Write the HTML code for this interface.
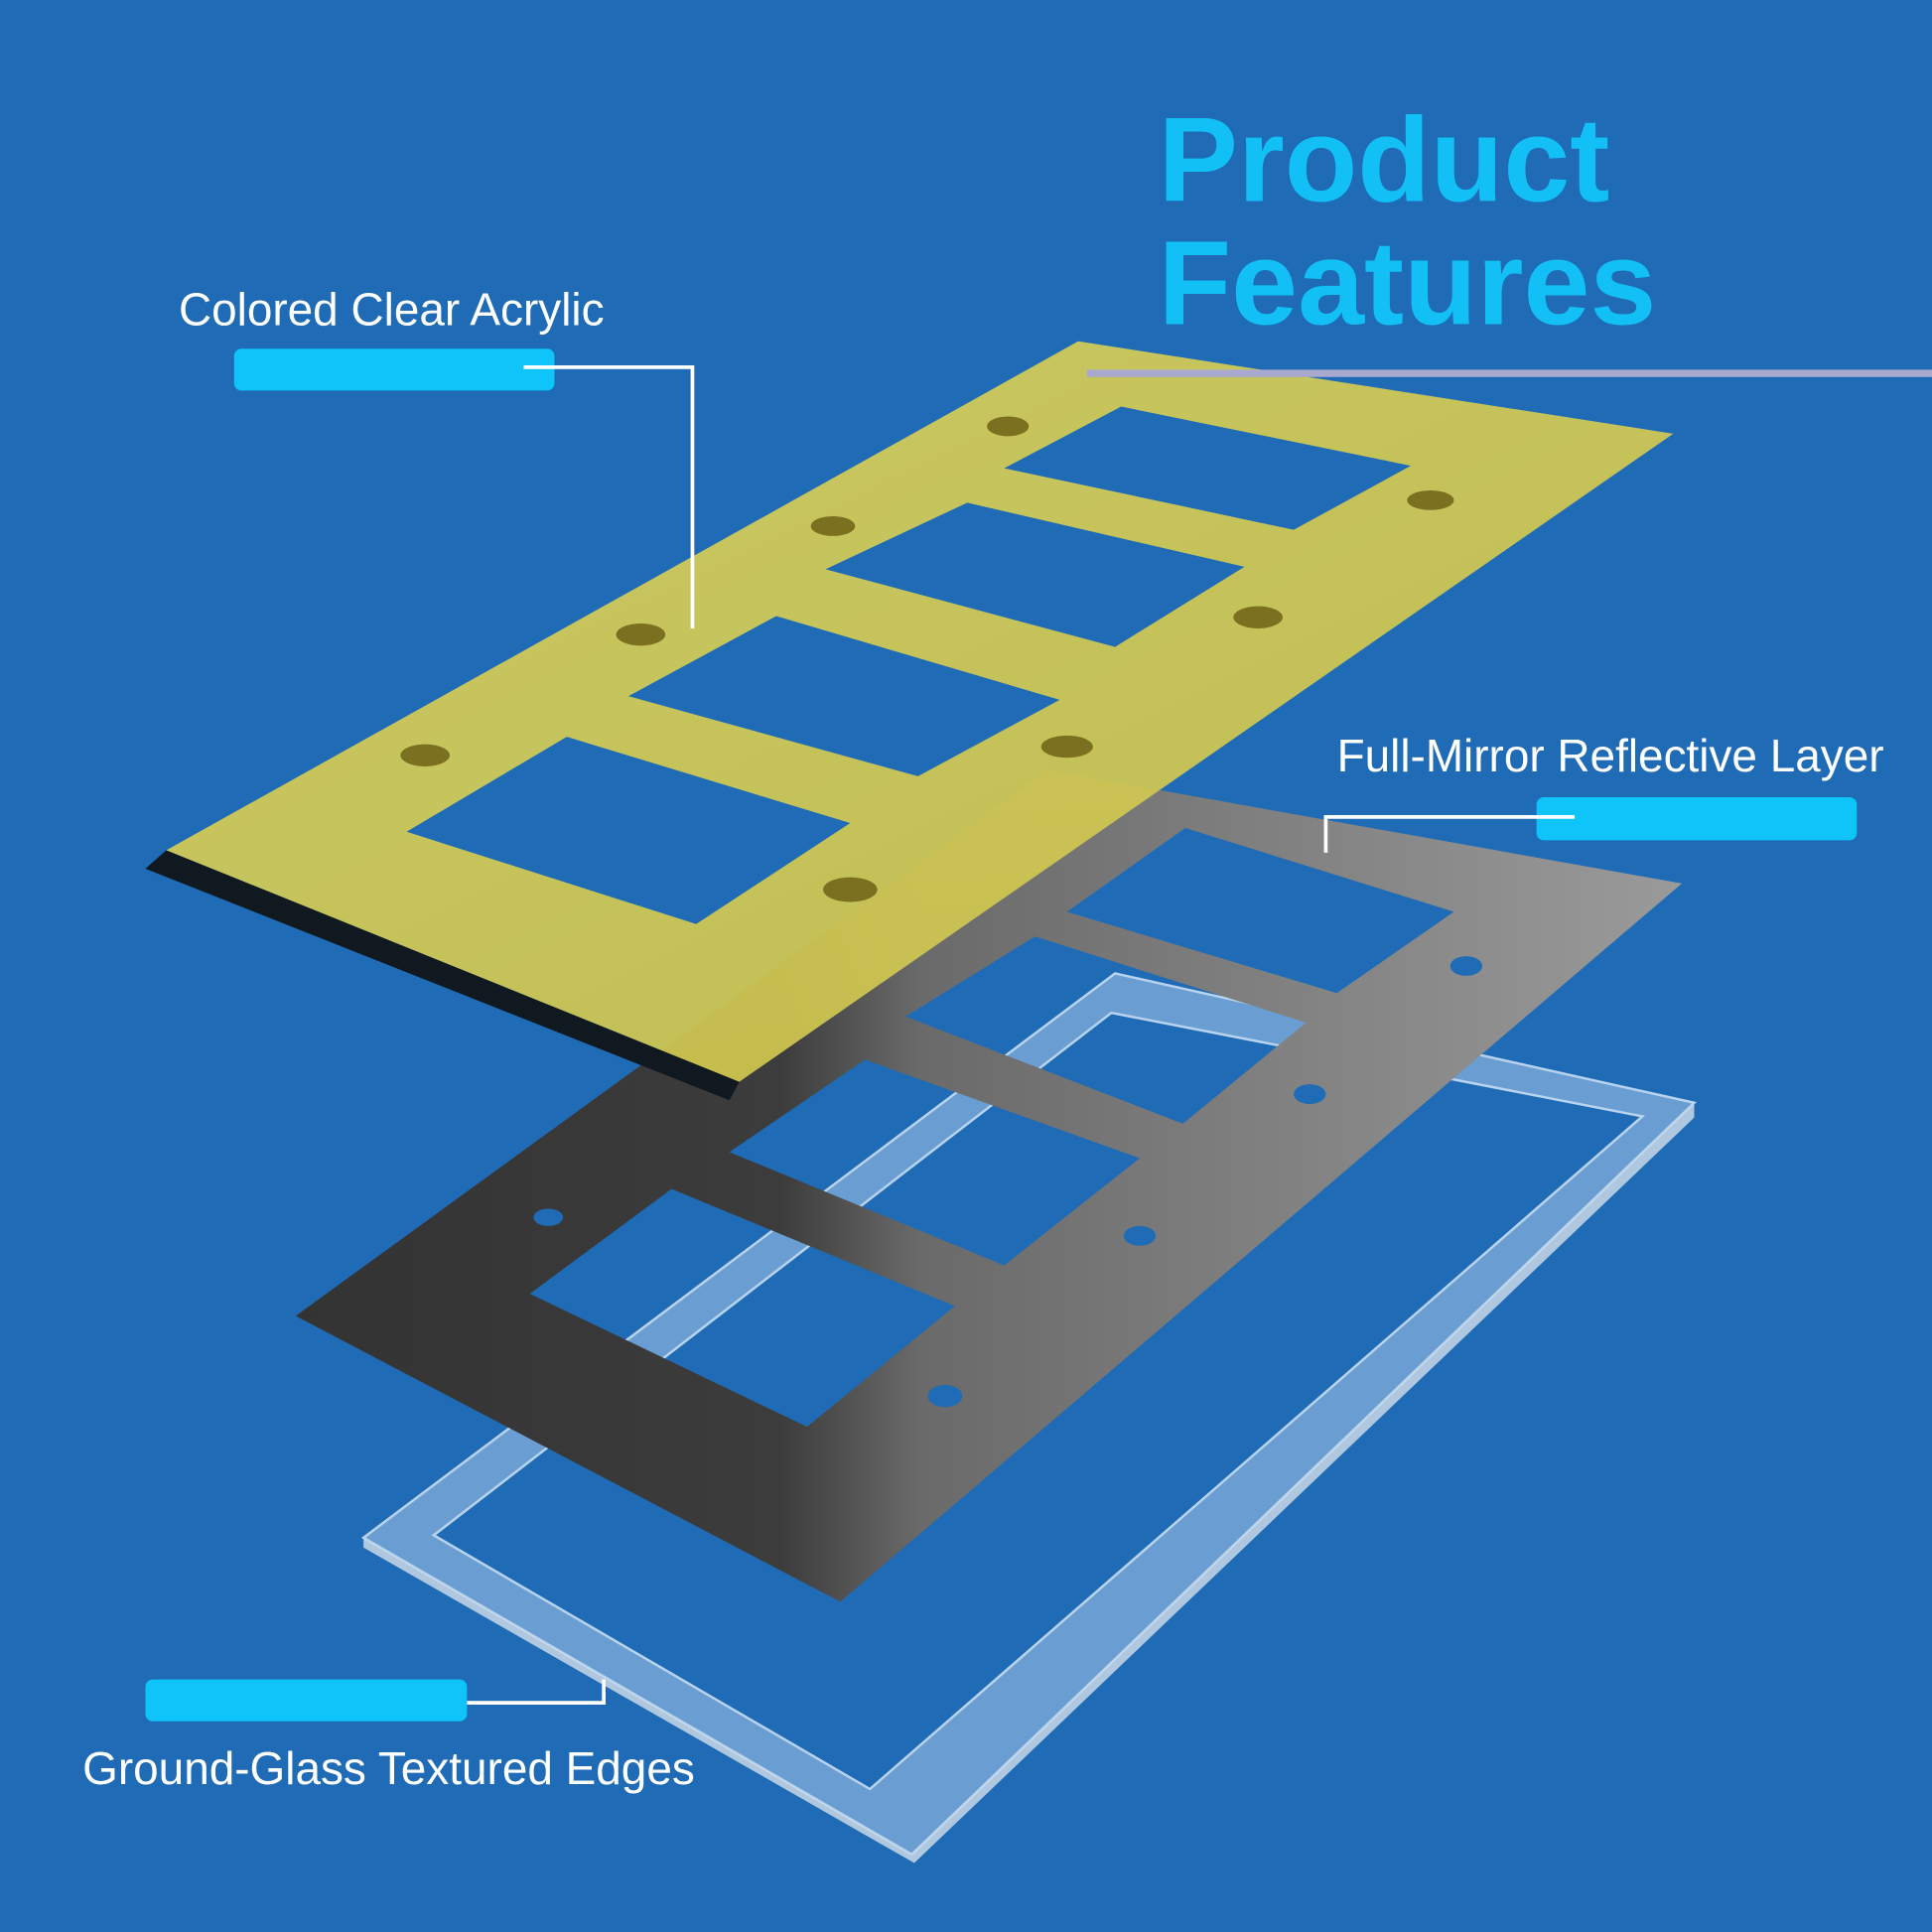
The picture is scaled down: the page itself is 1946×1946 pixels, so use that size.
<!DOCTYPE html>
<html><head><meta charset="utf-8"><style>
html,body{margin:0;padding:0;background:#1F6BB5;}
svg{display:block;}
</style></head><body>
<svg width="1946" height="1946" viewBox="0 0 1568 1568" xmlns="http://www.w3.org/2000/svg">
<defs>
<linearGradient id="gr" x1="0" y1="0" x2="1" y2="0">
<stop offset="0" stop-color="#333"/><stop offset="0.35" stop-color="#3c3c3c"/><stop offset="0.45" stop-color="#6a6a6a"/><stop offset="1" stop-color="#9a9a9a"/></linearGradient>
<linearGradient id="yl" x1="0" y1="0" x2="1" y2="1">
<stop offset="0" stop-color="#D8D05C"/><stop offset="1" stop-color="#CBC24A"/></linearGradient>
</defs>
<rect width="1568" height="1568" fill="#1F6BB5"/>
<path fill-rule="evenodd" fill="#9CC0E6" fill-opacity="0.6" stroke="#B8D3EE" stroke-width="2"
d="M295,1248 L905,790 L1375,895 L740,1505 Z M352,1246 L902,822 L1333,906 L706,1452 Z"/>
<path d="M295,1248 L740,1505 L1375,895 L1375,907 L742,1512 L295,1256 Z" fill="#C9D8E8" fill-opacity="0.85"/>
<path fill-rule="evenodd" fill="url(#gr)"
d="M240,1068 L850,625 L1365,717 L682,1300 Z
M430,1050 L545,965 L775,1060 L655,1158 Z
M592,935 L702,860 L925,940 L815,1027 Z
M735,825 L840,760 L1060,830 L960,912 Z
M866,740 L962,672 L1180,740 L1085,806 Z"/>
<g fill="#1F6BB5"><ellipse cx="445" cy="988" rx="12" ry="7"/><ellipse cx="767" cy="1133" rx="14" ry="9"/><ellipse cx="925" cy="1003" rx="13" ry="8"/><ellipse cx="1063" cy="888" rx="13" ry="8"/><ellipse cx="1190" cy="784" rx="13" ry="8"/></g>
<path d="M118,705 L135,690 L600,878 L592,893 Z" fill="#101820"/>
<path fill-rule="evenodd" fill="url(#yl)" fill-opacity="0.93"
d="M135,690 L875,277 L1358,352 L600,878 Z
M330,675 L460,598 L690,668 L565,750 Z
M510,565 L630,500 L860,568 L745,630 Z
M670,462 L785,408 L1010,460 L905,525 Z
M815,380 L910,330 L1145,378 L1050,430 Z"/>
<g fill="#7A7020"><ellipse cx="345" cy="613" rx="20" ry="9"/><ellipse cx="520" cy="515" rx="20" ry="9"/><ellipse cx="676" cy="427" rx="18" ry="8"/><ellipse cx="818" cy="346" rx="17" ry="8"/><ellipse cx="1161" cy="406" rx="19" ry="8"/><ellipse cx="1021" cy="501" rx="20" ry="9"/><ellipse cx="866" cy="606" rx="21" ry="9"/><ellipse cx="690" cy="722" rx="22" ry="10"/></g>
<line x1="882" y1="303" x2="1568" y2="303" stroke="#A9A9D0" stroke-width="6"/>
<g font-family="Liberation Sans, sans-serif" font-weight="bold" fill="#12C0F5" font-size="97">
<text x="940" y="163">Product</text><text x="940" y="263">Features</text></g>
<g font-family="Liberation Sans, sans-serif" fill="#fff" font-size="37">
<text x="145" y="264">Colored Clear Acrylic</text>
<text x="1085" y="626">Full-Mirror Reflective Layer</text>
<text x="67" y="1448">Ground-Glass Textured Edges</text></g>
<g fill="#0EC4F8">
<rect x="190" y="283" width="260" height="34" rx="6"/>
<rect x="1247" y="647" width="260" height="35" rx="6"/>
<rect x="118" y="1363" width="261" height="34" rx="6"/></g>
<g stroke="#fff" stroke-width="3" fill="none">
<polyline points="425,298 562,298 562,510"/>
<polyline points="1278,663 1076,663 1076,692"/>
<polyline points="379,1382 490,1382 490,1363"/></g>
</svg>
</body></html>
